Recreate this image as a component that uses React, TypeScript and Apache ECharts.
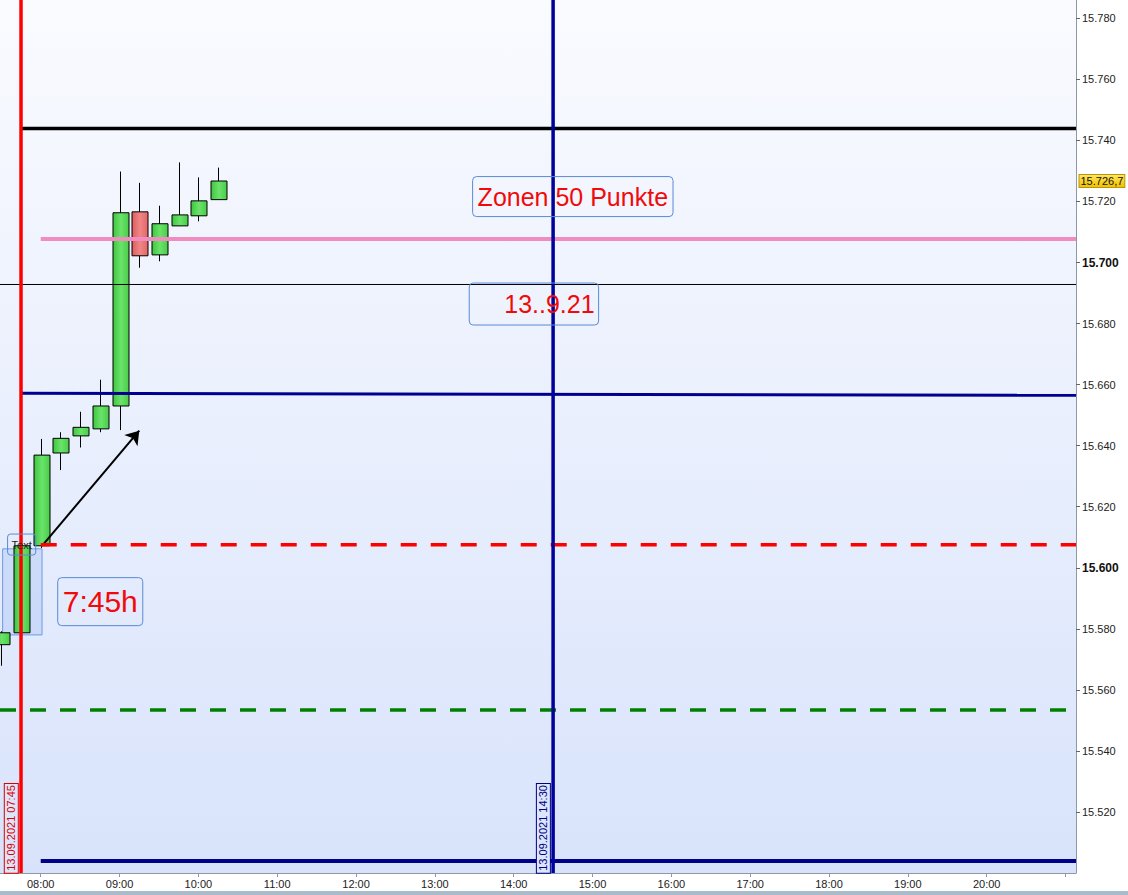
import React, { useEffect, useRef } from "react";
import * as echarts from "echarts";

// ---- Data ----
const candleTimes = ["07:30", "07:45", "08:00", "08:15", "08:30", "08:45", "09:00", "09:15", "09:30", "09:45", "10:00", "10:15"];
const opens = [15574.8, 15578.7, 15607.2, 15637.6, 15643.2, 15645.5, 15653.0, 15716.6, 15702.5, 15712.0, 15715.3, 15720.6];
const closes = [15578.7, 15607.2, 15636.9, 15642.4, 15646.0, 15653.0, 15716.3, 15702.2, 15712.7, 15715.6, 15720.2, 15726.7];
const lows = [15567.9, 15578.0, 15606.5, 15632.0, 15639.4, 15644.4, 15645.1, 15698.3, 15700.4, 15712.0, 15713.5, 15720.6];
const highs = [15579.2, 15608.5, 15642.2, 15644.4, 15651.1, 15661.6, 15729.8, 15726.1, 15718.6, 15732.8, 15727.9, 15731.1];

const xLabelTimes = ["08:00", "09:00", "10:00", "11:00", "12:00", "13:00", "14:00", "15:00", "16:00", "17:00", "18:00", "19:00", "20:00"];
const xTickTimes = [...xLabelTimes, "21:00"];
const yLabelValues = [15520, 15540, 15560, 15580, 15600, 15620, 15640, 15660, 15680, 15700, 15720, 15740, 15760, 15780];
const yBoldValues = [15600, 15700];

// horizontal levels: [startTime, value]
const levelBlack = { start: "07:45", value: 15743.9 };
const levelPink = { start: "08:00", value: 15707.7 };
const levelThin = { start: "07:29", value: 15692.8 };
const levelNavy = { start: "07:45", value: 15657.2, endValue: 15656.5 };
const levelRedDash = { start: "08:00", value: 15607.5 };
const levelGreenDash = { start: "07:29", value: 15553.4 };
const levelNavyBottom = { start: "08:00", value: 15503.9 };
const verticalRedTime = "07:45";
const verticalNavyTime = "14:30";

const lastPrice = 15726.7;
const arrowFrom = ["08:01", 15607.2];
const arrowTo = ["09:15", 15644.9];
const selectRect = [["07:31", 15606.2], ["08:01", 15578.0]];

const X_MIN_T = "07:29";
const X_MAX_T = "21:08";
const Y_MIN = 15500;
const Y_MAX = 15786;

const toMin = (s: string) => {
  const [h, m] = s.split(":").map(Number);
  return h * 60 + m;
};
const pad = (n: number) => (n < 10 ? "0" + n : "" + n);
const fmtTime = (v: number) => pad(Math.floor(v / 60)) + ":" + pad(Math.round(v % 60));
const fmtPrice = (v: number) => {
  const s = Math.round(v).toString();
  return s.slice(0, s.length - 3) + "." + s.slice(s.length - 3);
};

const FONT = "'Liberation Sans', Arial, sans-serif";

export default function App() {
  const ref = useRef<HTMLDivElement>(null);

  useEffect(() => {
    document.body.style.margin = "0";
    if (!ref.current) return;
    const chart = echarts.init(ref.current, undefined, { renderer: "svg" });
    const X_MIN = toMin(X_MIN_T);
    const X_MAX = toMin(X_MAX_T);

    const candleData = candleTimes.map((t, i) => [toMin(t), opens[i], closes[i], lows[i], highs[i]]);

    const hLine = (lvl: any, color: string, width: number, type: any = "solid", z = 5) => ({
      type: "line",
      data: [
        [toMin(lvl.start), lvl.value],
        [X_MAX, lvl.endValue !== undefined ? lvl.endValue : lvl.value],
      ],
      showSymbol: false,
      symbol: "none",
      silent: true,
      z,
      lineStyle: { color, width, type },
    });
    const vLine = (t: string, color: string, width: number) => ({
      type: "line",
      data: [
        [toMin(t), Y_MIN],
        [toMin(t), Y_MAX],
      ],
      showSymbol: false,
      symbol: "none",
      silent: true,
      z: 6,
      lineStyle: { color, width },
    });

    const boxBorder = "#5a8ad6";
    const RED = "#f00a0a";
    const annotations: any[] = [
      {
        value: [toMin("14:45"), 15721.6],
        label: {
          formatter: "Zonen 50 Punkte",
          fontSize: 25,
          color: RED,
          padding: [8, 5, 7, 5],
          borderColor: boxBorder,
          borderWidth: 1,
          borderRadius: 4,
        },
      },
      {
        value: [855.4, 15686.4],
        label: {
          formatter: "13..9.21",
          fontSize: 25,
          color: RED,
          padding: [9, 4, 8, 35],
          borderColor: boxBorder,
          borderWidth: 1,
          borderRadius: 4,
        },
      },
      {
        value: [525.3, 15588.9],
        label: {
          formatter: "7:45h",
          fontSize: 30,
          color: RED,
          padding: [10, 5, 8, 5],
          borderColor: boxBorder,
          borderWidth: 1,
          borderRadius: 4,
        },
      },
      {
        value: [465.5, 15607.6],
        label: {
          formatter: "Text",
          fontSize: 11,
          color: "#222",
          padding: [5, 4, 5, 4],
          borderColor: boxBorder,
          borderWidth: 1,
          borderRadius: 3,
        },
      },
      {
        value: [457.6, 15514.6],
        label: {
          formatter: "13.09.2021 07:45",
          fontSize: 11,
          rotate: 90,
          color: "#dd0000",
          padding: [1, 1, 1, 2],
          borderColor: "#dd0000",
          borderWidth: 1,
          backgroundColor: "#dbe5fb",
        },
      },
      {
        value: [862.6, 15514.6],
        label: {
          formatter: "13.09.2021 14:30",
          fontSize: 11,
          rotate: 90,
          color: "#000080",
          padding: [1, 1, 1, 2],
          borderColor: "#000080",
          borderWidth: 1,
          backgroundColor: "#dbe5fb",
        },
      },
    ];

    const option: any = {
      animation: false,
      textStyle: { fontFamily: FONT },
      grid: {
        left: 0,
        top: 0,
        right: 52,
        bottom: 22,
        show: true,
        borderWidth: 0,
        backgroundColor: new echarts.graphic.LinearGradient(0, 0, 0, 1, [
          { offset: 0, color: "#fafbff" },
          { offset: 1, color: "#d8e3fb" },
        ]),
      },
      xAxis: {
        type: "value",
        min: X_MIN,
        max: X_MAX,
        splitLine: { show: false },
        axisLine: { show: true, lineStyle: { color: "#8c9aa6", width: 1 } },
        axisTick: {
          show: true,
          length: 4,
          customValues: xTickTimes.map(toMin),
          lineStyle: { color: "#8c9aa6" },
        },
        axisLabel: {
          customValues: xLabelTimes.map(toMin),
          formatter: (v: number) => fmtTime(v),
          color: "#222",
          fontSize: 11,
          margin: 5,
          fontFamily: FONT,
        },
      },
      yAxis: {
        type: "value",
        position: "right",
        min: Y_MIN,
        max: Y_MAX,
        splitLine: { show: false },
        axisLine: { show: true, lineStyle: { color: "#8c9aa6", width: 1 } },
        axisTick: {
          show: true,
          length: 4,
          customValues: yLabelValues,
          lineStyle: { color: "#666" },
        },
        axisLabel: {
          customValues: yLabelValues,
          formatter: (v: number) => (yBoldValues.includes(Math.round(v)) ? `{b|${fmtPrice(v)}}` : fmtPrice(v)),
          color: "#222",
          fontSize: 11,
          margin: 6,
          fontFamily: FONT,
          rich: { b: { fontWeight: "bold", fontSize: 12, color: "#111", fontFamily: FONT } },
        },
      },
      series: [
        {
          type: "line",
          data: [],
          z: 1,
          silent: true,
          markArea: {
            silent: true,
            itemStyle: { color: "rgba(175,200,245,0.45)", borderColor: "#6f9ae0", borderWidth: 1 },
            data: [
              [
                { coord: [toMin(selectRect[0][0] as string), selectRect[0][1]] },
                { coord: [toMin(selectRect[1][0] as string), selectRect[1][1]] },
              ],
            ],
          },
        },
        {
          type: "custom",
          z: 2,
          data: candleData,
          encode: { x: 0, y: [1, 2, 3, 4] },
          renderItem: (params: any, api: any) => {
            const t = api.value(0);
            const o = api.value(1);
            const c = api.value(2);
            const l = api.value(3);
            const h = api.value(4);
            const pO = api.coord([t, o]);
            const pC = api.coord([t, c]);
            const pL = api.coord([t, l]);
            const pH = api.coord([t, h]);
            const w = api.size([15, 0])[0] * 0.8;
            const x = Math.round(pO[0]) + 0.5;
            const up = c >= o;
            const top = Math.min(pO[1], pC[1]);
            const bh = Math.max(Math.abs(pO[1] - pC[1]), 1);
            const fill = up
              ? new echarts.graphic.LinearGradient(0, 0, 1, 0, [
                  { offset: 0, color: "#3fc63f" },
                  { offset: 0.5, color: "#6ae36a" },
                  { offset: 1, color: "#48cd48" },
                ])
              : new echarts.graphic.LinearGradient(0, 0, 1, 0, [
                  { offset: 0, color: "#e05c5c" },
                  { offset: 0.5, color: "#f08686" },
                  { offset: 1, color: "#e56666" },
                ]);
            return {
              type: "group",
              children: [
                {
                  type: "line",
                  shape: { x1: x, y1: pH[1], x2: x, y2: pL[1] },
                  style: { stroke: "#000", lineWidth: 1 },
                },
                {
                  type: "rect",
                  shape: { x: Math.round(x - w / 2), y: top, width: Math.round(w), height: bh },
                  style: { fill, stroke: "#000", lineWidth: 1 },
                },
              ],
            };
          },
        },
        hLine(levelThin, "#000000", 1),
        hLine(levelBlack, "#000000", 3.5),
        hLine(levelPink, "#f08cc0", 4),
        hLine(levelNavy, "#000090", 3),
        hLine(levelRedDash, "#ff0000", 3.5, [16, 14]),
        hLine(levelGreenDash, "#008000", 3.5, [16, 14]),
        hLine(levelNavyBottom, "#000088", 4),
        vLine(verticalRedTime, "#ff0000", 3.5),
        vLine(verticalNavyTime, "#00009a", 3.5),
        {
          type: "scatter",
          z: 10,
          silent: true,
          symbolSize: 1,
          itemStyle: { color: "rgba(0,0,0,0)", opacity: 1 },
          clip: false,
          label: { show: true, position: "inside", fontFamily: FONT },
          data: annotations,
          markLine: {
            silent: true,
            symbol: ["none", "arrow"],
            symbolSize: 13,
            label: { show: false },
            lineStyle: { color: "#000", width: 2, type: "solid", opacity: 1 },
            itemStyle: { color: "#000", opacity: 1 },
            data: [
              [
                { coord: [toMin(arrowFrom[0] as string), arrowFrom[1]] },
                { coord: [toMin(arrowTo[0] as string), arrowTo[1]] },
              ],
            ],
          },
        },
        {
          type: "scatter",
          z: 11,
          silent: true,
          symbolSize: 1,
          clip: false,
          itemStyle: { color: "rgba(0,0,0,0)", opacity: 1 },
          data: [
            {
              value: [X_MAX, lastPrice],
              label: {
                show: true,
                position: "right",
                distance: 3,
                formatter: fmtPrice(Math.floor(lastPrice)) + "," + Math.round((lastPrice % 1) * 10),
                fontSize: 11,
                color: "#111",
                fontFamily: FONT,
                padding: [1, 1, 0, 1],
                backgroundColor: new echarts.graphic.LinearGradient(0, 0, 0, 1, [
                  { offset: 0, color: "#ffe55c" },
                  { offset: 1, color: "#f2c200" },
                ]),
                borderColor: "#b8960c",
                borderWidth: 1,
              },
            },
          ],
        },
      ],
      graphic: [
        {
          type: "rect",
          shape: { x: 0, y: 891, width: 1128, height: 4 },
          style: { fill: "#a8bccb" },
          silent: true,
        },
      ],
    };

    chart.setOption(option);
    return () => chart.dispose();
  }, []);

  return <div ref={ref} style={{ width: 1128, height: 895, background: "#fff" }} />;
}
